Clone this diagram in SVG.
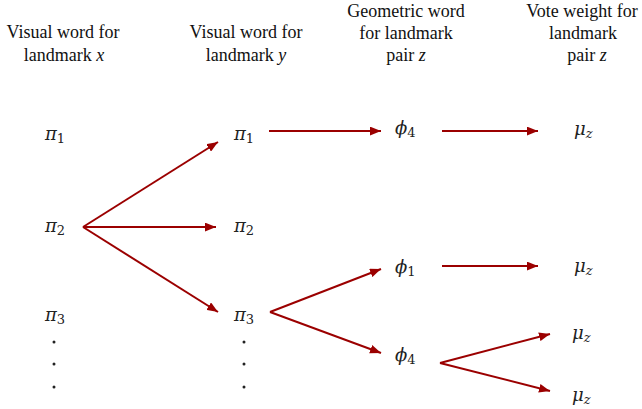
<svg xmlns="http://www.w3.org/2000/svg" width="642" height="409" viewBox="0 0 642 409">
  <style>
    .hdr { font-family: "Liberation Serif", "Times New Roman", serif; font-size: 18px; fill: #111; text-anchor: middle; }
    .var { font-style: italic; }
    .sym { font-family: "DejaVu Serif", "Liberation Serif", serif; font-size: 18px; font-style: italic; fill: #222; }
    .sub { font-size: 13px; font-style: normal; }
    .subi { font-size: 13px; font-style: italic; }
    .edge { stroke: #9b0000; stroke-width: 2; fill: none; marker-end: url(#arrow); }
    .dot { fill: #222; }
  </style>
  <defs>
    <marker id="arrow" viewBox="0 0 10 8" refX="10" refY="4" markerUnits="userSpaceOnUse" markerWidth="11" markerHeight="9" orient="auto">
      <path d="M0,0 L10,4 L0,8 z" fill="#9b0000"/>
    </marker>
  </defs>

  <!-- column headers -->
  <g id="headers">
    <text class="hdr" x="63" y="38">Visual word for</text>
    <text class="hdr" x="64" y="61">landmark <tspan class="var">x</tspan></text>
    <text class="hdr" x="246" y="38">Visual word for</text>
    <text class="hdr" x="246" y="61">landmark <tspan class="var">y</tspan></text>
    <text class="hdr" x="406" y="17">Geometric word</text>
    <text class="hdr" x="406" y="39">for landmark</text>
    <text class="hdr" x="406" y="61">pair <tspan class="var">z</tspan></text>
    <text class="hdr" x="582" y="17">Vote weight for</text>
    <text class="hdr" x="583" y="39">landmark</text>
    <text class="hdr" x="587" y="61">pair <tspan class="var">z</tspan></text>
  </g>

  <!-- column 1: visual words for landmark x -->
  <g id="x-pi1"><text class="sym" x="45" y="140">π<tspan class="sub" dy="3">1</tspan></text></g>
  <g id="x-pi2"><text class="sym" x="45" y="232">π<tspan class="sub" dy="3">2</tspan></text></g>
  <g id="x-pi3"><text class="sym" x="45" y="321">π<tspan class="sub" dy="3">3</tspan></text></g>
  <g id="x-more">
    <circle class="dot" cx="54" cy="342" r="1.5"/>
    <circle class="dot" cx="54" cy="364" r="1.5"/>
    <circle class="dot" cx="54" cy="387" r="1.5"/>
  </g>

  <!-- column 2: visual words for landmark y -->
  <g id="y-pi1"><text class="sym" x="234" y="140">π<tspan class="sub" dy="3">1</tspan></text></g>
  <g id="y-pi2"><text class="sym" x="234" y="232">π<tspan class="sub" dy="3">2</tspan></text></g>
  <g id="y-pi3"><text class="sym" x="234" y="321">π<tspan class="sub" dy="3">3</tspan></text></g>
  <g id="y-more">
    <circle class="dot" cx="244" cy="342" r="1.5"/>
    <circle class="dot" cx="244" cy="364" r="1.5"/>
    <circle class="dot" cx="244" cy="387" r="1.5"/>
  </g>

  <!-- column 3: geometric words -->
  <g id="z-phi4a"><text class="sym" x="395" y="134">ϕ<tspan class="sub" dy="3">4</tspan></text></g>
  <g id="z-phi1"><text class="sym" x="395" y="273">ϕ<tspan class="sub" dy="3">1</tspan></text></g>
  <g id="z-phi4b"><text class="sym" x="395" y="361">ϕ<tspan class="sub" dy="3">4</tspan></text></g>

  <!-- column 4: vote weights -->
  <g id="w-mu1"><text class="sym" x="574" y="135">μ<tspan class="subi" dy="3">z</tspan></text></g>
  <g id="w-mu2"><text class="sym" x="574" y="272">μ<tspan class="subi" dy="3">z</tspan></text></g>
  <g id="w-mu3"><text class="sym" x="572" y="339">μ<tspan class="subi" dy="3">z</tspan></text></g>
  <g id="w-mu4"><text class="sym" x="572" y="401">μ<tspan class="subi" dy="3">z</tspan></text></g>

  <!-- connectors -->
  <g id="connectors">
    <line class="edge" x1="83" y1="227" x2="218" y2="142"/>
    <line class="edge" x1="83" y1="227" x2="216" y2="227"/>
    <line class="edge" x1="83" y1="227" x2="218" y2="312"/>
    <line class="edge" x1="269" y1="131" x2="381" y2="131"/>
    <line class="edge" x1="442" y1="131" x2="538" y2="131"/>
    <line class="edge" x1="270" y1="312" x2="381" y2="269"/>
    <line class="edge" x1="270" y1="312" x2="381" y2="353"/>
    <line class="edge" x1="442" y1="266" x2="538" y2="266"/>
    <line class="edge" x1="440" y1="363" x2="550" y2="334"/>
    <line class="edge" x1="440" y1="363" x2="550" y2="391"/>
  </g>
</svg>
